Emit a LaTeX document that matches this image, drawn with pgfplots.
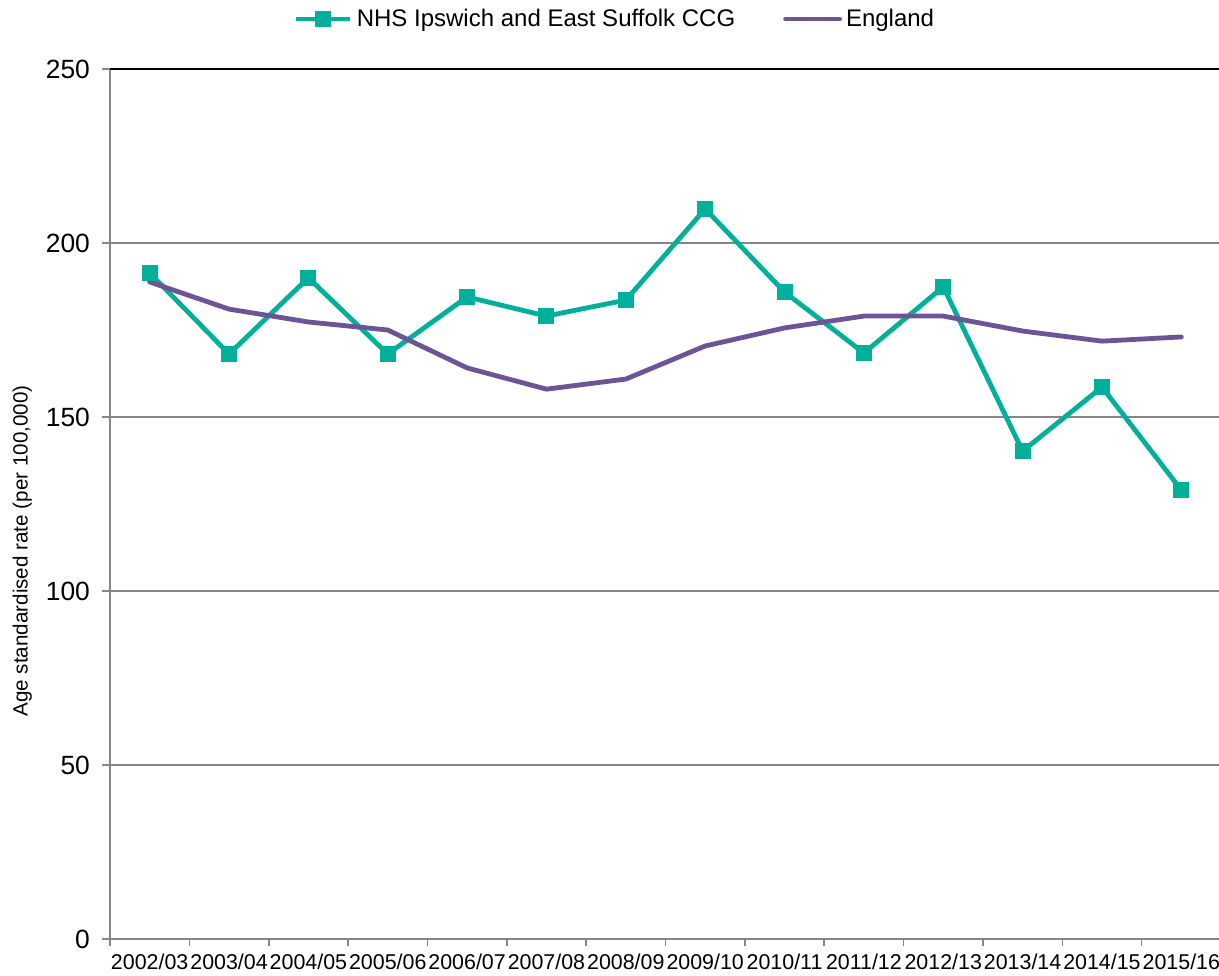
\documentclass[border=0pt]{standalone}
\usepackage{fontspec}
\setmainfont{Liberation Sans}
\usepackage{pgfplots}
\pgfplotsset{compat=1.18}
\definecolor{teal1}{RGB}{0,176,155}
\definecolor{purp}{RGB}{108,84,150}
\definecolor{axgray}{RGB}{134,134,134}
\begin{document}
\begin{tikzpicture}[x=1pt,y=1pt]
\begin{axis}[
  at={(0,0)}, anchor=south west,
  scale only axis,
  width=555.5pt, height=435pt,
  xmin=-0.5, xmax=13.5,
  ymin=0, ymax=250,
  ytick={0,50,100,150,200,250},
  xtick={0,...,13},
  xticklabels={2002/03,2003/04,2004/05,2005/06,2006/07,2007/08,2008/09,2009/10,2010/11,2011/12,2012/13,2013/14,2014/15,2015/16},
  minor xtick={-0.5,0.5,...,13.5},
  axis x line*=bottom, axis y line*=left,
  axis line style={axgray, line width=1pt, -},
  tick align=outside,
  major tick length=4pt,
  minor tick length=3.5pt,
  xtick style={draw=none},
  minor x tick style={draw=axgray, line width=0.8pt},
  ytick style={draw=axgray, line width=0.8pt},
  ymajorgrids,
  major grid style={axgray, line width=0.75pt},
  extra y ticks={250},
  extra y tick labels={},
  extra y tick style={grid=major, major grid style={black, line width=0.9pt}, major tick length=0pt},
  /pgf/number format/assume math mode=true,
  yticklabel style={font=\fontsize{13.2}{15}\selectfont, xshift=-2.5pt},
  xticklabel style={font=\fontsize{10.7}{12}\selectfont, yshift=0pt},
  ylabel={Age standardised rate (per 100,000)},
  ylabel style={font=\fontsize{10.3}{12}\selectfont, at={(axis description cs:-0.079,0.446)}, anchor=center},
  legend columns=2,
  legend style={draw=none, fill=none, at={(axis description cs:0.4555,1.0575)}, anchor=center,
    font=\fontsize{12}{14}\selectfont,
    /tikz/every even column/.append style={column sep=22pt},
    /tikz/every odd column/.append style={inner xsep=0pt},
    inner sep=0pt, cells={anchor=west}},
  legend image code/.code={\draw[mark repeat=2,mark phase=2] plot coordinates {(0pt,0pt) (13.5pt,0pt) (27pt,0pt)};},
  clip=false,
]
\addplot[teal1, line width=2.4pt, mark=square*, mark size=3.75pt, mark options={solid, fill=teal1, draw=teal1, line width=0pt}] coordinates {
(0,191.4) (1,168.1) (2,190.0) (3,168.1) (4,184.5) (5,179.0) (6,183.6)
(7,209.8) (8,185.9) (9,168.4) (10,187.4) (11,140.2) (12,158.6) (13,129.0)};
\addlegendentry{NHS Ipswich and East Suffolk CCG}
\addplot[purp, line width=2.4pt, line cap=round, line join=round] coordinates {
(0,188.8) (1,181.0) (2,177.3) (3,175.0) (4,164.1) (5,158.0) (6,160.9)
(7,170.4) (8,175.6) (9,179.0) (10,179.0) (11,174.7) (12,171.8) (13,173.0)};
\addlegendentry{England}
\end{axis}
\pgfresetboundingbox
\path (-55pt,-18pt) rectangle (554.5pt,469.5pt);
\end{tikzpicture}
\end{document}
